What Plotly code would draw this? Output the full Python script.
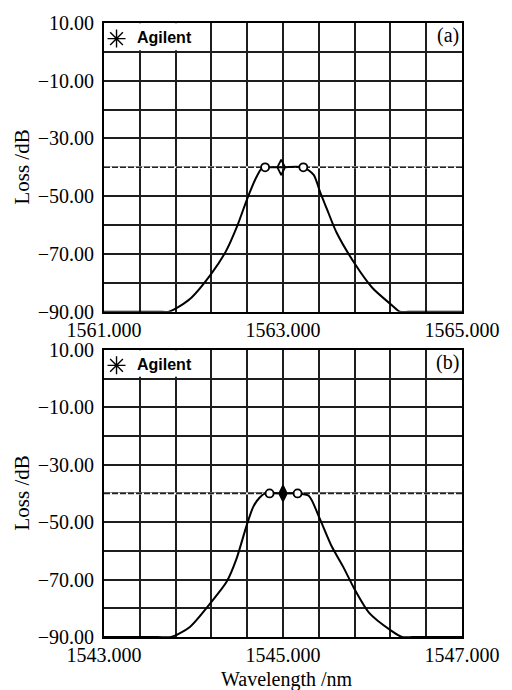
import plotly.graph_objects as go

# ---- data ----
wl_a = [1561.0, 1561.60, 1561.727, 1561.96, 1562.2, 1562.36, 1562.49, 1562.6, 1562.69, 1562.76, 1562.80,
        1563.0, 1563.227, 1563.343, 1563.416, 1563.49, 1563.597, 1563.81, 1564.0, 1564.21, 1564.305, 1564.45, 1565.0]
loss_a = [-90, -90, -90, -85.6, -76.8, -69.2, -60.2, -50.9, -44.2, -40.4, -40,
          -40, -40, -42.6, -48.7, -54.4, -62.5, -73.75, -81.8, -87.6, -90, -90, -90]
mk_a_x = [1562.80, 1563.227]
mk_a_c = [1562.98]

wl_b = [1543.0, 1543.60, 1543.75, 1543.96, 1544.2, 1544.37, 1544.48, 1544.6, 1544.67, 1544.74, 1544.80,
        1545.0, 1545.163, 1545.29, 1545.4, 1545.545, 1545.67, 1545.8, 1545.96, 1546.2, 1546.33, 1546.45, 1547.0]
loss_b = [-90, -90, -90, -86.5, -77.8, -70.8, -62.8, -50.5, -44.5, -41.4, -40,
          -40, -40, -40.9, -48.0, -58.5, -65.4, -73.4, -81.5, -87.6, -90, -90, -90]
mk_b_x = [1544.85, 1545.163]
mk_b_c = [1545.0]

ref_level = -40
y_ticks = [10, 0, -10, -20, -30, -40, -50, -60, -70, -80, -90]
y_text = ["10.00", "", "\u221210.00", "", "\u221230.00", "", "\u221250.00", "", "\u221270.00", "", "\u221290.00"]
xa_ticks = [1561.0 + 0.4 * k for k in range(11)]
xa_text = ["1561.000" if k == 0 else "1563.000" if k == 5 else "1565.000" if k == 10 else "" for k in range(11)]
xb_ticks = [1543.0 + 0.4 * k for k in range(11)]
xb_text = ["1543.000" if k == 0 else "1545.000" if k == 5 else "1547.000" if k == 10 else "" for k in range(11)]

SERIF = "Liberation Serif, Times New Roman, serif"
fig = go.Figure()

def add_panel(xs, ys, mk, mc, xr, yr, center_filled):
    fig.add_trace(go.Scatter(x=xs, y=ys, mode="lines", xaxis=xr, yaxis=yr,
                             line=dict(color="black", width=2, shape="spline", smoothing=0.7),
                             showlegend=False, hoverinfo="skip"))
    fig.add_trace(go.Scatter(x=mk, y=[ref_level] * len(mk), mode="markers", xaxis=xr, yaxis=yr,
                             marker=dict(symbol="circle", size=8, color="white",
                                         line=dict(color="black", width=1.8)),
                             showlegend=False, hoverinfo="skip"))
    fig.add_trace(go.Scatter(x=mc, y=[ref_level] * len(mc), mode="markers", xaxis=xr, yaxis=yr,
                             marker=dict(symbol="diamond-tall" if center_filled else "diamond-tall-open",
                                         size=11, color="black",
                                         line=dict(color="black", width=1.8)),
                             showlegend=False, hoverinfo="skip"))

add_panel(wl_a, loss_a, mk_a_x, mk_a_c, "x", "y", False)
add_panel(wl_b, loss_b, mk_b_x, mk_b_c, "x2", "y2", True)

shapes = []
annos = []
for (xr, yr, x0, lab) in [("x", "y", 1561.0, "(a)"), ("x2", "y2", 1543.0, "(b)")]:
    # logo box covering the grid
    shapes.append(dict(type="rect", xref=xr, yref=yr, x0=x0 + 0.01, x1=x0 + 1.18, y0=0.6, y1=9.9,
                       fillcolor="white", line=dict(width=0), layer="between"))
    # dashed reference line
    shapes.append(dict(type="line", xref=xr, yref=yr, x0=x0, x1=x0 + 4, y0=ref_level, y1=ref_level,
                       line=dict(color="white", width=2), layer="between"))
    shapes.append(dict(type="line", xref=xr, yref=yr, x0=x0, x1=x0 + 4, y0=ref_level, y1=ref_level,
                       line=dict(color="#222", width=1.6, dash="6px,2px"), layer="between"))
    fig.add_trace(go.Scatter(x=[x0 + 0.14], y=[4.6], mode="markers", xaxis=xr, yaxis=yr,
                             marker=dict(symbol="asterisk-open", size=15, color="black",
                                         line=dict(color="black", width=1.4)),
                             showlegend=False, hoverinfo="skip"))
    annos.append(dict(x=x0 + 0.35, y=5.0, xref=xr, yref=yr, text="<b>Agilent</b>", showarrow=False,
                      xanchor="left", yanchor="middle",
                      font=dict(family="Liberation Sans Narrow, Liberation Sans, Arial, sans-serif",
                                size=16, color="black")))
    annos.append(dict(x=x0 + 3.985, y=5.6, xref=xr, yref=yr, text=lab, showarrow=False,
                      xanchor="right", yanchor="middle",
                      font=dict(family=SERIF, size=20, color="black")))

PW, PH, L, B = 368, 619, 104, 53
annos.append(dict(x=(20 - L) / PW, y=(637 - 163.5) / PH, xref="paper", yref="paper", text="Loss /dB",
                  textangle=-90, showarrow=False, xanchor="center", yanchor="middle",
                  font=dict(family=SERIF, size=21, color="black")))
annos.append(dict(x=(20 - L) / PW, y=(637 - 492) / PH, xref="paper", yref="paper", text="Loss /dB",
                  textangle=-90, showarrow=False, xanchor="center", yanchor="middle",
                  font=dict(family=SERIF, size=21, color="black")))
annos.append(dict(x=(292 - L) / PW, y=(637 - 680) / PH, xref="paper", yref="paper", text="Wavelength /nm",
                  showarrow=False, xanchor="center", yanchor="middle",
                  font=dict(family=SERIF, size=20, color="black")))

grid = dict(showgrid=True, gridcolor="#1e1e1e", gridwidth=1.5, zeroline=False,
            showline=True, linecolor="black", linewidth=2, mirror=True, ticks="",
            tickfont=dict(family=SERIF, size=20, color="black"), tickmode="array")

fig.update_layout(
    width=512, height=690, margin=dict(l=L, r=40, t=18, b=B),
    paper_bgcolor="white", plot_bgcolor="white", showlegend=False,
    xaxis=dict(grid, domain=[0, 1], range=[1561, 1565], tickvals=xa_ticks, ticktext=xa_text, anchor="y",
               ticklabelstandoff=-1),
    yaxis=dict(grid, domain=[(637 - 309) / PH, 1], range=[-90, 10], tickvals=y_ticks, ticktext=y_text,
               anchor="x", ticklabelstandoff=4),
    xaxis2=dict(grid, domain=[0, 1], range=[1543, 1547], tickvals=xb_ticks, ticktext=xb_text, anchor="y2",
                ticklabelstandoff=-1),
    yaxis2=dict(grid, domain=[0, (637 - 347.5) / PH], range=[-90, 10], tickvals=y_ticks, ticktext=y_text,
                anchor="x2", ticklabelstandoff=4),
    shapes=shapes, annotations=annos,
)

fig.write_html("out.html")
